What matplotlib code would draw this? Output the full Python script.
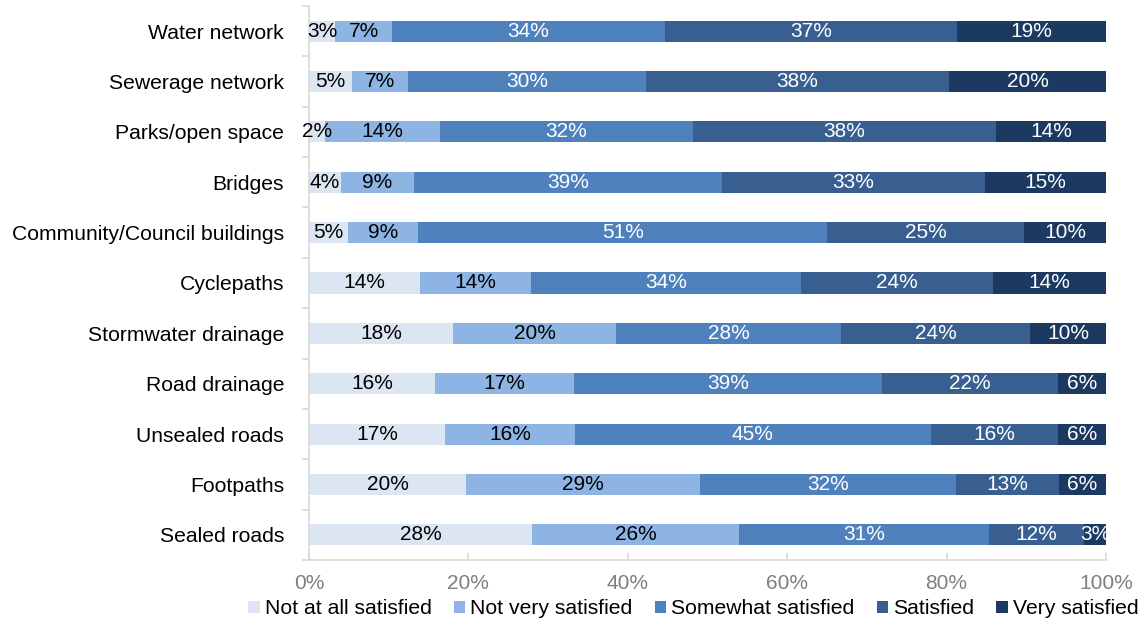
import numpy as np
import matplotlib
matplotlib.use('Agg')
from matplotlib import pyplot as plt

plt.rcParams['font.family'] = ['Liberation Sans', 'DejaVu Sans']

categories = ['Water network', 'Sewerage network', 'Parks/open space', 'Bridges',
              'Community/Council buildings', 'Cyclepaths', 'Stormwater drainage',
              'Road drainage', 'Unsealed roads', 'Footpaths', 'Sealed roads']
series = ['Not at all satisfied', 'Not very satisfied', 'Somewhat satisfied',
          'Satisfied', 'Very satisfied']

# percentages, one list per response level (same order as categories)
not_at_all = [3.3, 5.4, 2.0, 4.0, 4.9, 13.9, 18.1, 15.8, 17.1, 19.7, 28.0]
not_very = [7.1, 7.0, 14.4, 9.2, 8.8, 14.0, 20.4, 17.4, 16.3, 29.4, 26.0]
somewhat = [34.3, 29.9, 31.8, 38.6, 51.3, 33.8, 28.3, 38.7, 44.6, 32.1, 31.3]
satisfied = [36.6, 38.0, 38.0, 33.0, 24.7, 24.1, 23.7, 22.1, 16.0, 12.9, 12.0]
very = [18.7, 19.7, 13.8, 15.2, 10.3, 14.2, 9.5, 6.0, 6.0, 5.9, 2.7]

colors = ['#dce6f2', '#8eb4e3', '#4f81bd', '#385f8f', '#1b3961']
text_colors = ['black', 'black', 'white', 'white', 'white']

fig = plt.figure(figsize=(11.46, 6.23), dpi=100)
ax = fig.add_axes([309 / 1146, 1 - 560 / 623, 797 / 1146, 554 / 623])

y = np.arange(len(categories))
left = np.zeros(len(categories))
for vals, name, col, tcol in zip([not_at_all, not_very, somewhat, satisfied, very],
                                 series, colors, text_colors):
    vals = np.array(vals)
    ax.barh(y, vals, left=left, height=0.42, color=col, label=name)
    for yi, l, v in zip(y, left, vals):
        ax.text(l + v / 2, yi, '%d%%' % round(v), ha='center', va='center',
                fontsize=15, color=tcol)
    left = left + vals

ax.set_ylim(len(categories) - 0.5, -0.5)
ax.set_xlim(0, 100)
ax.set_yticks(y)
ax.set_yticklabels(categories, fontsize=15.2)
ax.set_yticks(np.arange(len(categories) + 1) - 0.5, minor=True)
ax.tick_params(axis='y', which='major', length=0, pad=18)
ax.tick_params(axis='y', which='minor', length=5, color='#d9d9d9', width=1.2)
ax.set_xticks(np.arange(0, 101, 20))
ax.set_xticklabels(['%d%%' % t for t in range(0, 101, 20)])
ax.tick_params(axis='x', direction='in', length=5, color='#d9d9d9', width=1.2,
               labelsize=15, labelcolor='#7f7f7f', pad=10)

for s in ['top', 'right']:
    ax.spines[s].set_visible(False)
for s in ['left', 'bottom']:
    ax.spines[s].set_color('#d9d9d9')
    ax.spines[s].set_linewidth(1.2)

fig.legend(loc='center', bbox_to_anchor=(0.605, 0.0225), ncol=5, frameon=False,
           fontsize=15.2, handlelength=0.53, handleheight=0.53, handletextpad=0.24,
           columnspacing=1.06, borderpad=0, borderaxespad=0)

plt.savefig('out.png', dpi=100)
